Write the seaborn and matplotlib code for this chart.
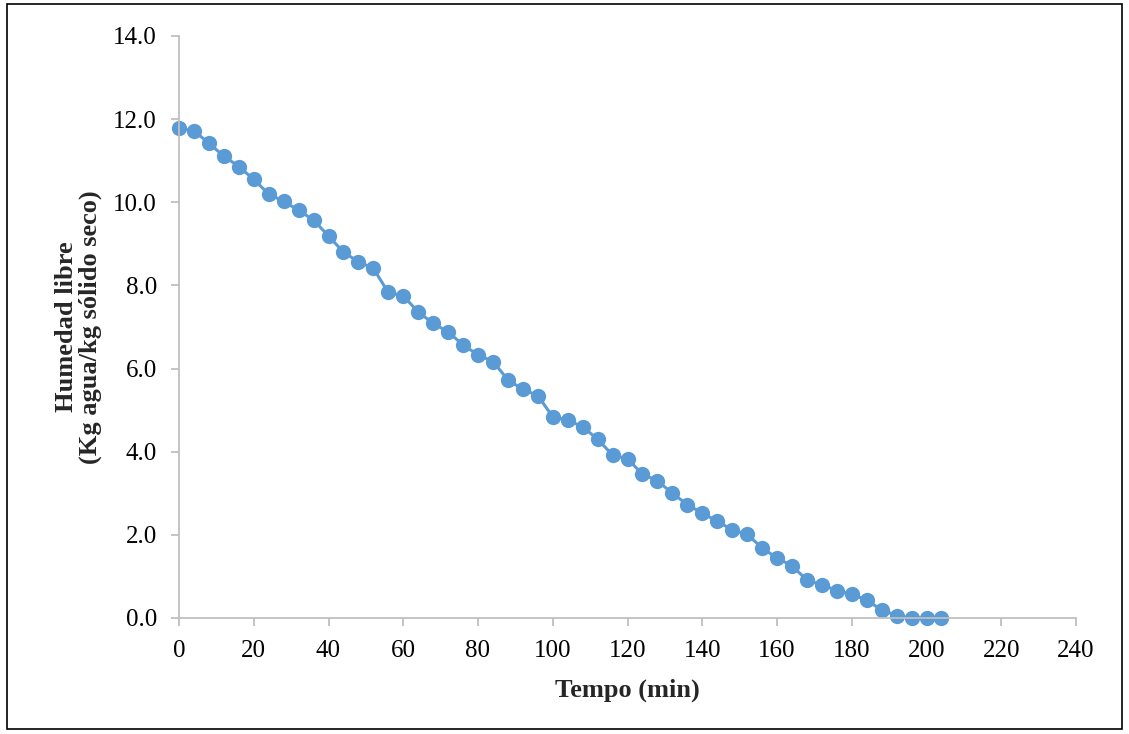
import matplotlib
matplotlib.use("Agg")
import matplotlib.pyplot as plt
import seaborn as sns
import pandas as pd
from matplotlib.patches import Rectangle

tiempo = [0, 4, 8, 12, 16, 20, 24, 28, 32, 36, 40, 44, 48, 52, 56, 60, 64, 68, 72, 76,
          80, 84, 88, 92, 96, 100, 104, 108, 112, 116, 120, 124, 128, 132, 136, 140,
          144, 148, 152, 156, 160, 164, 168, 172, 176, 180, 184, 188, 192, 196, 200, 204]
humedad = [11.78, 11.72, 11.42, 11.11, 10.86, 10.55, 10.20, 10.02, 9.81, 9.57, 9.19,
           8.80, 8.57, 8.41, 7.83, 7.75, 7.36, 7.09, 6.88, 6.57, 6.33, 6.17, 5.73, 5.50,
           5.35, 4.84, 4.76, 4.60, 4.30, 3.92, 3.83, 3.46, 3.30, 3.00, 2.73, 2.52, 2.33,
           2.12, 2.01, 1.69, 1.44, 1.26, 0.91, 0.80, 0.66, 0.57, 0.43, 0.19, 0.06, 0.0,
           0.0, 0.0]
xticks = list(range(0, 241, 20))
yticks = [0, 2, 4, 6, 8, 10, 12, 14]

df = pd.DataFrame({"Tempo (min)": tiempo, "Humedad": humedad})

sns.set_theme(style="white")
plt.rcParams["font.family"] = ["Liberation Serif", "DejaVu Serif"]

fig = plt.figure(figsize=(11.29, 7.34), dpi=100)
ax = fig.add_axes([179 / 1129, 1 - 618 / 734, (1076 - 179) / 1129, (618 - 36) / 734])

color = "#5B9BD5"
sns.lineplot(data=df, x="Tempo (min)", y="Humedad", ax=ax, color=color,
             linewidth=2.2, marker="o", markersize=11, markeredgewidth=0,
             markerfacecolor=color, clip_on=False)

ax.set_xlim(0, 240)
ax.set_ylim(0, 14)
ax.set_xticks(xticks)
ax.set_xticklabels([str(t) for t in xticks])
ax.set_yticks(yticks)
ax.set_yticklabels([f"{v:.1f}" for v in yticks])

grey = "#BFBFBF"
for s in ["top", "right"]:
    ax.spines[s].set_visible(False)
for s in ["left", "bottom"]:
    ax.spines[s].set_color(grey)
    ax.spines[s].set_linewidth(1.3)
ax.tick_params(axis="both", which="major", direction="out", length=6, width=1.3,
               color=grey, labelsize=18, labelcolor="black",
               bottom=True, left=True)
ax.tick_params(axis="y", pad=10)
ax.tick_params(axis="x", pad=10)

ax.set_xlabel("Tempo (min)", fontsize=19, fontweight="bold", labelpad=12)
ax.set_ylabel("Humedad libre\n(Kg agua/kg sólido seco)", fontsize=19,
              fontweight="bold", labelpad=8, linespacing=1.0)

fig.patches.append(Rectangle((7 / 1129, 1 - 729 / 734), (1122 - 7) / 1129, (729 - 4) / 734,
                             transform=fig.transFigure, fill=False,
                             edgecolor="black", linewidth=1.2))

fig.savefig("out.png", dpi=100)
